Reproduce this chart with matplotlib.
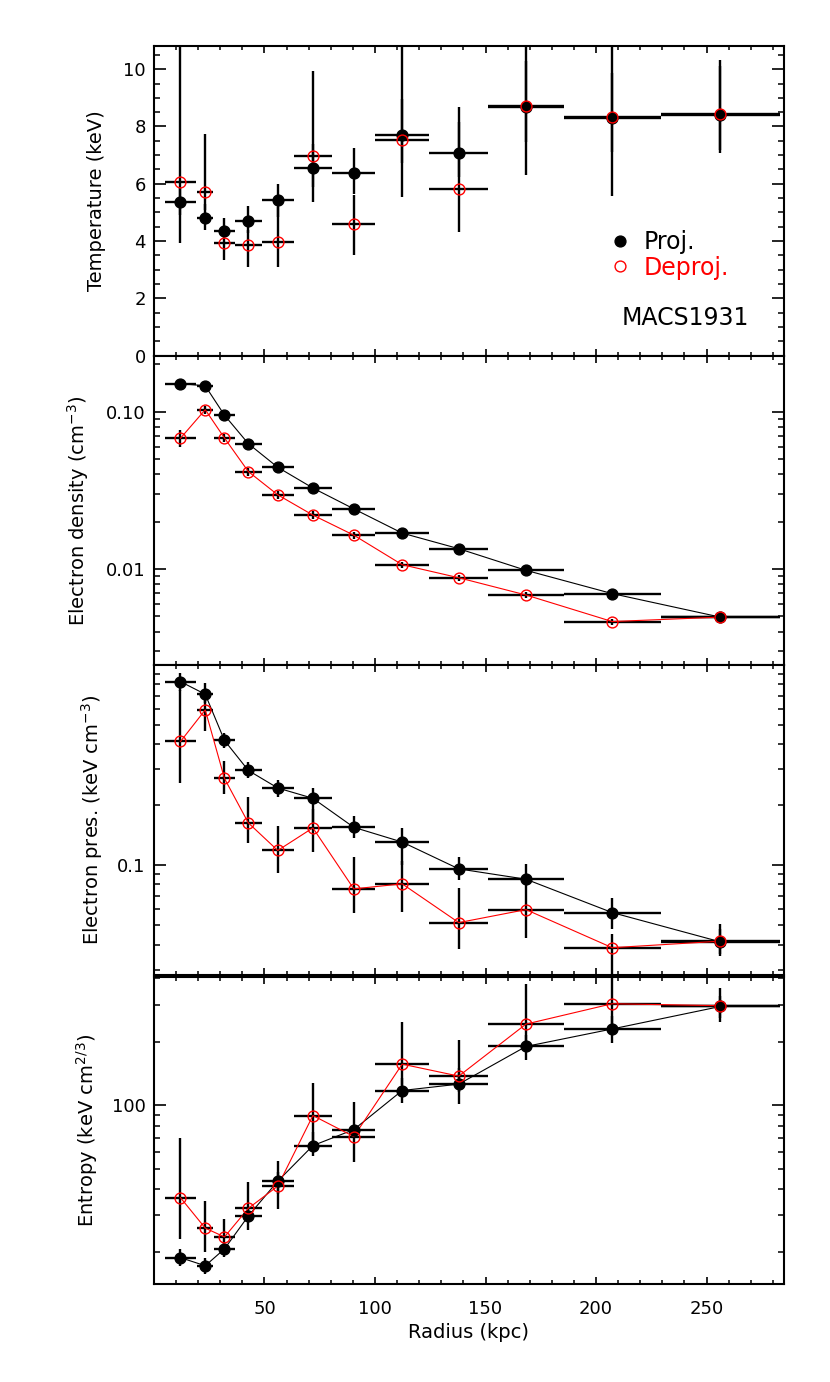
import numpy as np
import matplotlib
matplotlib.use('Agg')
import matplotlib.pyplot as plt
from matplotlib.ticker import (FixedLocator, FixedFormatter, NullFormatter,
                               MultipleLocator, LogLocator)

# ---------------- data ----------------
radius = [12.0, 23.2, 31.9, 42.7, 56.0, 71.9, 90.4, 112.3, 137.9, 168.3, 207.3, 256.2]
radius_halfwidth = [7.0, 3.7, 4.8, 6.0, 7.3, 8.6, 9.7, 12.2, 13.4, 17.1, 21.9, 26.9]

# Temperature (keV)
temp_proj = [5.37, 4.82, 4.36, 4.71, 5.42, 6.55, 6.36, 7.69, 7.06, 8.68, 8.31, 8.39]
temp_proj_lo = [4.90, 4.38, 4.15, 4.27, 4.85, 5.89, 5.66, 6.71, 6.24, 7.46, 7.11, 7.08]
temp_proj_hi = [5.84, 5.31, 4.79, 5.22, 6.01, 7.38, 7.25, 8.97, 8.16, 10.29, 9.88, 10.10]
temp_deproj = [6.07, 5.73, 3.94, 3.86, 3.96, 6.97, 4.59, 7.54, 5.82, 8.71, 8.33, 8.45]
temp_deproj_lo = [3.92, 5.10, 3.33, 3.10, 3.10, 5.37, 3.51, 5.54, 4.32, 6.30, 5.57, 7.17]
temp_deproj_hi = [13.0, 7.75, 4.50, 4.40, 5.19, 9.94, 5.60, 12.5, 8.68, 12.0, 12.0, 10.33]

# Electron density (cm^-3)
dens_proj = [0.151, 0.146, 0.095, 0.0626, 0.0443, 0.0327, 0.0241, 0.0169, 0.01345, 0.0098, 0.00697, 0.00494]
dens_proj_err = [0.004, 0.004, 0.002, 0.0012, 0.0008, 0.0006, 0.0004, 0.0003, 0.0002, 0.00015, 0.0001, 0.0001]
dens_deproj = [0.0678, 0.103, 0.068, 0.0416, 0.0296, 0.0220, 0.0164, 0.01064, 0.00879, 0.00683, 0.00463, 0.00494]
dens_deproj_err = [0.0085, 0.006, 0.004, 0.0025, 0.0018, 0.0012, 0.0008, 0.0005, 0.0004, 0.0003, 0.0002, 0.0002]

# Electron pressure (keV cm^-3)
pres_proj = [0.822, 0.711, 0.418, 0.296, 0.242, 0.215, 0.154, 0.130, 0.0955, 0.0848, 0.0578, 0.0413]
pres_proj_lo = [0.74, 0.64, 0.382, 0.271, 0.219, 0.161, 0.136, 0.100, 0.0842, 0.070, 0.048, 0.0349]
pres_proj_hi = [0.905, 0.807, 0.457, 0.328, 0.265, 0.243, 0.176, 0.152, 0.110, 0.1008, 0.0687, 0.0508]
pres_deproj = [0.413, 0.594, 0.270, 0.162, 0.118, 0.153, 0.0759, 0.0804, 0.0515, 0.0598, 0.0386, 0.0416]
pres_deproj_lo = [0.256, 0.464, 0.226, 0.128, 0.0909, 0.1166, 0.0574, 0.058, 0.0379, 0.043, 0.020, 0.036]
pres_deproj_hi = [0.75, 0.70, 0.33, 0.219, 0.157, 0.19, 0.110, 0.105, 0.077, 0.07, 0.045, 0.048]

# Entropy (keV cm^2/3)
entr_proj = [18.9, 17.3, 20.8, 29.8, 43.6, 64.3, 76.6, 117.4, 125.9, 190.0, 230.0, 294.0]
entr_proj_lo = [17.2, 15.8, 19.1, 25.7, 38.0, 57.7, 70.0, 102.2, 101.5, 164.0, 197.0, 248.0]
entr_proj_hi = [20.7, 18.9, 22.5, 33.0, 54.4, 75.0, 104.0, 135.0, 150.0, 215.0, 265.0, 360.0]
entr_deproj = [36.4, 26.1, 23.7, 32.4, 41.3, 89.3, 71.0, 156.6, 137.4, 242.6, 303.0, 296.6]
entr_deproj_lo = [23.1, 20.2, 20.5, 28.0, 32.0, 65.0, 54.0, 125.0, 115.0, 200.0, 240.0, 260.0]
entr_deproj_hi = [69.7, 35.2, 28.7, 43.4, 48.0, 127.2, 80.0, 248.0, 204.0, 376.0, 1000.0, 330.0]

x_ticks = [50, 100, 150, 200, 250]

# ---------------- figure ----------------
plt.rcParams['font.family'] = ['DejaVu Sans']
plt.rcParams['mathtext.fontset'] = 'dejavusans'

fig = plt.figure(figsize=(8.3, 13.82), dpi=100)
left, width = 0.1855, 0.7590
boxes = [(0.74262, 0.22431), (0.51881, 0.22381), (0.29450, 0.22431), (0.07127, 0.22214)]
axes = [fig.add_axes([left, b, width, h]) for b, h in boxes]

x = np.array(radius)
xe = np.array(radius_halfwidth)


def panel(ax, yp, yp_lo, yp_hi, yd, yd_lo, yd_hi, lines):
    for y, lo, hi in ((yp, yp_lo, yp_hi), (yd, yd_lo, yd_hi)):
        y = np.array(y)
        lo = np.array(lo)
        hi = np.array(hi)
        ax.errorbar(x, y, xerr=xe, yerr=[y - lo, hi - y], fmt='none',
                    ecolor='black', elinewidth=1.7, capsize=0, zorder=2)
    if lines:
        ax.plot(x, yp, color='black', lw=0.8, zorder=3)
        ax.plot(x, yd, color='red', lw=0.8, zorder=3)
    hp, = ax.plot(x, yp, 'o', ms=7.8, mfc='black', mec='black', ls='none', zorder=4)
    hd, = ax.plot(x, yd, 'o', ms=7.8, mfc='none', mec='red', mew=1.0, ls='none', zorder=5)
    return hp, hd


hp, hd = panel(axes[0], temp_proj, temp_proj_lo, temp_proj_hi,
               temp_deproj, temp_deproj_lo, temp_deproj_hi, lines=False)

dp = np.array(dens_proj); dpe = np.array(dens_proj_err)
dd = np.array(dens_deproj); dde = np.array(dens_deproj_err)
panel(axes[1], dp, dp - dpe, dp + dpe, dd, dd - dde, dd + dde, lines=True)
panel(axes[2], pres_proj, pres_proj_lo, pres_proj_hi,
      pres_deproj, pres_deproj_lo, pres_deproj_hi, lines=True)
panel(axes[3], entr_proj, entr_proj_lo, entr_proj_hi,
      entr_deproj, entr_deproj_lo, entr_deproj_hi, lines=True)

# ---------------- axes styling ----------------
for i, ax in enumerate(axes):
    ax.set_xlim(0, 285)
    ax.xaxis.set_major_locator(FixedLocator(x_ticks))
    ax.xaxis.set_minor_locator(MultipleLocator(10))
    ax.tick_params(axis='both', which='both', direction='in', top=True, right=True,
                   labelsize=13, colors='black')
    ax.tick_params(axis='x', which='major', length=4.8, width=1.2, pad=12)
    ax.tick_params(axis='x', which='minor', length=2.9, width=1.1)
    ax.tick_params(axis='y', which='major', length=8.4, width=1.2, pad=6)
    ax.tick_params(axis='y', which='minor', length=4.3, width=1.1)
    for s in ax.spines.values():
        s.set_linewidth(1.5)
    if i < 3:
        ax.tick_params(axis='x', labelbottom=False)

# Temperature
ax = axes[0]
ax.set_ylim(0, 10.82)
ax.yaxis.set_major_locator(MultipleLocator(2))
ax.yaxis.set_minor_locator(MultipleLocator(0.5))
ax.set_ylabel('Temperature (keV)', fontsize=14, va='center')
ax.yaxis.set_label_coords(-0.092, 0.5)

# Density
ax = axes[1]
ax.set_yscale('log')
ax.set_ylim(0.00245, 0.227)
ax.yaxis.set_major_locator(FixedLocator([0.01, 0.1]))
ax.yaxis.set_major_formatter(FixedFormatter(['0.01', '0.10']))
ax.yaxis.set_minor_locator(LogLocator(base=10, subs=np.arange(2, 10)))
ax.yaxis.set_minor_formatter(NullFormatter())
ax.set_ylabel(r'Electron density (cm$^{-3}$)', fontsize=14, va='center')
ax.yaxis.set_label_coords(-0.121, 0.5)

# Pressure
ax = axes[2]
ax.set_yscale('log')
ax.set_ylim(0.0282, 0.995)
ax.yaxis.set_major_locator(FixedLocator([0.1]))
ax.yaxis.set_major_formatter(FixedFormatter(['0.1']))
ax.yaxis.set_minor_locator(LogLocator(base=10, subs=np.arange(2, 10)))
ax.yaxis.set_minor_formatter(NullFormatter())
ax.set_ylabel(r'Electron pres. (keV cm$^{-3}$)', fontsize=14, va='center')
ax.yaxis.set_label_coords(-0.098, 0.5)

# Entropy
ax = axes[3]
ax.set_yscale('log')
ax.set_ylim(14.25, 408)
ax.yaxis.set_major_locator(FixedLocator([100]))
ax.yaxis.set_major_formatter(FixedFormatter(['100']))
ax.yaxis.set_minor_locator(LogLocator(base=10, subs=np.arange(2, 10)))
ax.yaxis.set_minor_formatter(NullFormatter())
ax.set_ylabel(r'Entropy (keV cm$^{2/3}$)', fontsize=14, va='center')
ax.yaxis.set_label_coords(-0.106, 0.5)
ax.set_xlabel('Radius (kpc)', fontsize=14, va='center')
ax.xaxis.set_label_coords(0.5, -0.158)

# Legend and cluster name
leg = axes[0].legend([hp, hd], ['Proj.', 'Deproj.'], loc='center left',
                     bbox_to_anchor=(0.7248, 0.325), frameon=False, fontsize=17,
                     handlelength=0.8, handletextpad=0.58, labelspacing=0.05,
                     borderpad=0, borderaxespad=0)
leg.get_texts()[1].set_color('red')
axes[0].text(0.742, 0.122, 'MACS1931', transform=axes[0].transAxes,
             fontsize=17, ha='left', va='center', color='black')

fig.savefig('out.png', dpi=100)
